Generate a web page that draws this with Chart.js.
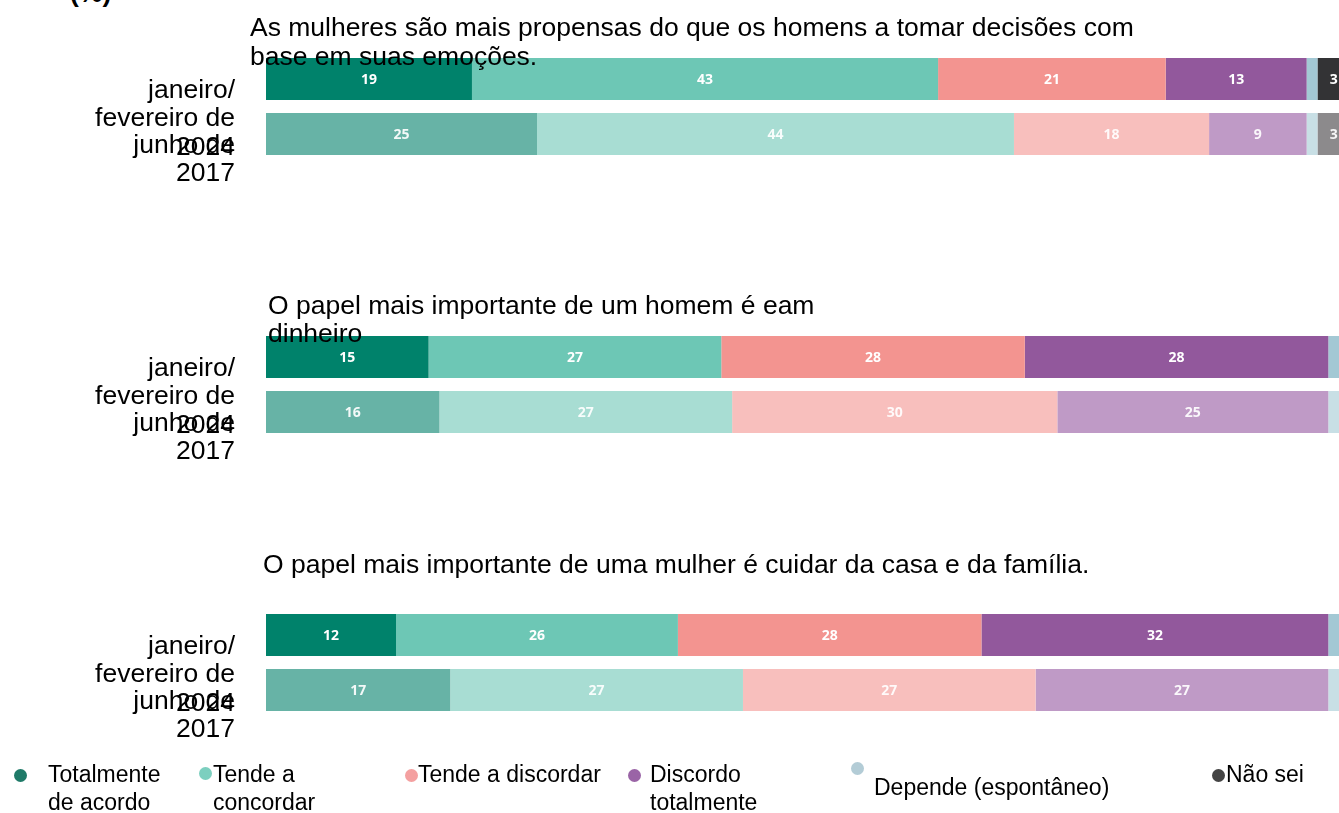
<!DOCTYPE html>
<html>
<head>
<meta charset="utf-8">
<script src="https://cdn.jsdelivr.net/npm/chart.js@4.4.0/dist/chart.umd.min.js"></script>
<style>
html,body{margin:0;padding:0;background:#fff;}
body{width:1339px;height:813px;overflow:hidden;position:relative;font-family:"Liberation Sans",Arial,sans-serif;color:#000;}
canvas.panel{position:absolute;left:0;}
.title{position:absolute;font-size:26.5px;line-height:28.6px;}
.pct{position:absolute;left:70px;top:-21px;font-size:26.5px;line-height:28.6px;font-weight:bold;}
.leg{position:absolute;font-size:23px;line-height:27.6px;}
.dot{position:absolute;width:13px;height:13px;border-radius:50%;filter:blur(0.6px);}
</style>
</head>
<body>
<div class="pct">(%)</div>
<script>
// ---------- data ----------
const questions = [
  "As mulheres são mais propensas do que os homens a tomar decisões com base em suas emoções.",
  "O papel mais importante de um homem é eam dinheiro",
  "O papel mais importante de uma mulher é cuidar da casa e da família."
];
const periods = [["janeiro/", "fevereiro de", "2024"], ["junho de", "2017"]];
const seriesNames = ["Totalmente de acordo", "Tende a concordar", "Tende a discordar", "Discordo totalmente", "Depende (espontâneo)", "Não sei"];

// values per series: [jan/fev 2024, jun 2017]
const q1Values = [[19, 25], [43, 44], [21, 18], [13, 9], [1, 1], [3, 3]];
const q2Values = [[15, 16], [27, 27], [28, 30], [28, 25], [1, 1], [1, 1]];
const q3Values = [[12, 17], [26, 27], [28, 27], [32, 27], [1, 1], [1, 1]];
const allValues = [q1Values, q2Values, q3Values];

// ---------- styles ----------
const barColors = [
  ["#00826b", "#67b3a6"],
  ["#6dc7b5", "#a8ddd3"],
  ["#f39490", "#f8bfbd"],
  ["#92589c", "#bf9ac6"],
  ["#a3c8d4", "#c8dfe5"],
  ["#333335", "#8c8a8c"]
];
const legendColors = ["#1f7a68", "#7ccfbf", "#f4a0a0", "#9a64a6", "#b3ccd6", "#444444"];

const titleBoxes = [
  {left: 250, top: 13.4, width: 900},
  {left: 268, top: 290.7, width: 600},
  {left: 263, top: 549.7, width: 1000}
];
const canvasTops = [11, 289, 567];

const valueLabels = {
  id: 'valueLabels',
  afterDatasetsDraw(chart) {
    const ctx = chart.ctx;
    ctx.save();
    ctx.font = '700 14px "Open Sans", "DejaVu Sans", sans-serif';
    ctx.textAlign = 'center';
    ctx.textBaseline = 'middle';
    chart.data.datasets.forEach((ds, di) => {
      const meta = chart.getDatasetMeta(di);
      meta.data.forEach((bar, i) => {
        const v = ds.data[i];
        if (v < 3) return;
        ctx.fillStyle = i === 0 ? '#ffffff' : 'rgba(255,255,255,0.92)';
        ctx.fillText(String(v), (bar.x + bar.base) / 2, bar.y + 1);
      });
    });
    ctx.restore();
  }
};

questions.forEach((q, qi) => {
  const t = document.createElement('div');
  t.className = 'title';
  const b = titleBoxes[qi];
  t.style.left = b.left + 'px';
  t.style.top = b.top + 'px';
  t.style.width = b.width + 'px';
  t.textContent = q;
  document.body.appendChild(t);

  const c = document.createElement('canvas');
  c.className = 'panel';
  c.width = 1350; c.height = 210;
  c.style.width = '1350px'; c.style.height = '210px';
  c.style.top = canvasTops[qi] + 'px';
  document.body.insertBefore(c, t);

  const vals = allValues[qi];
  new Chart(c.getContext('2d'), {
    type: 'bar',
    data: {
      labels: periods,
      datasets: seriesNames.map((name, si) => ({
        label: name,
        data: vals[si],
        backgroundColor: barColors[si],
        borderWidth: 0,
        barPercentage: 42 / 55,
        categoryPercentage: 1
      }))
    },
    options: {
      indexAxis: 'y',
      responsive: false,
      animation: false,
      layout: {padding: {top: 40.5, bottom: 59.5, left: 0, right: 0}},
      plugins: {legend: {display: false}, tooltip: {enabled: false}, title: {display: false}},
      scales: {
        x: {stacked: true, display: false, min: 0, max: 100},
        y: {
          stacked: true,
          grid: {display: false, drawTicks: false},
          border: {display: false},
          ticks: {
            autoSkip: false,
            padding: 31,
            labelOffset: 25.5,
            color: '#000',
            font: {family: '"Liberation Sans", Arial, sans-serif', size: 26.5, lineHeight: 1.08},
            callback: (v, i) => i === 0 ? [''].concat(periods[0]) : periods[i]
          },
          afterFit(scale) { scale.width = 266; scale.paddingTop = 0; scale.paddingBottom = 0; }
        }
      }
    },
    plugins: [valueLabels]
  });
});

// ---------- legend ----------
const legendItems = [
  {dot: [20, 775], text: [48, 761.4], width: 125},
  {dot: [205, 773], text: [213, 761.4], width: 110},
  {dot: [411, 775], text: [418, 761.4], width: 220},
  {dot: [634, 775], text: [650, 761.4], width: 120},
  {dot: [857, 768], text: [874, 774.4], width: 260},
  {dot: [1218, 775], text: [1226, 761.4], width: 120}
];
seriesNames.forEach((name, i) => {
  const it = legendItems[i];
  const d = document.createElement('div');
  d.className = 'dot';
  d.style.left = (it.dot[0] - 6.5) + 'px';
  d.style.top = (it.dot[1] - 6.5) + 'px';
  d.style.background = legendColors[i];
  document.body.appendChild(d);
  const l = document.createElement('div');
  l.className = 'leg';
  l.style.left = it.text[0] + 'px';
  l.style.top = it.text[1] + 'px';
  l.style.width = it.width + 'px';
  l.textContent = name;
  document.body.appendChild(l);
});
</script>
</body>
</html>
